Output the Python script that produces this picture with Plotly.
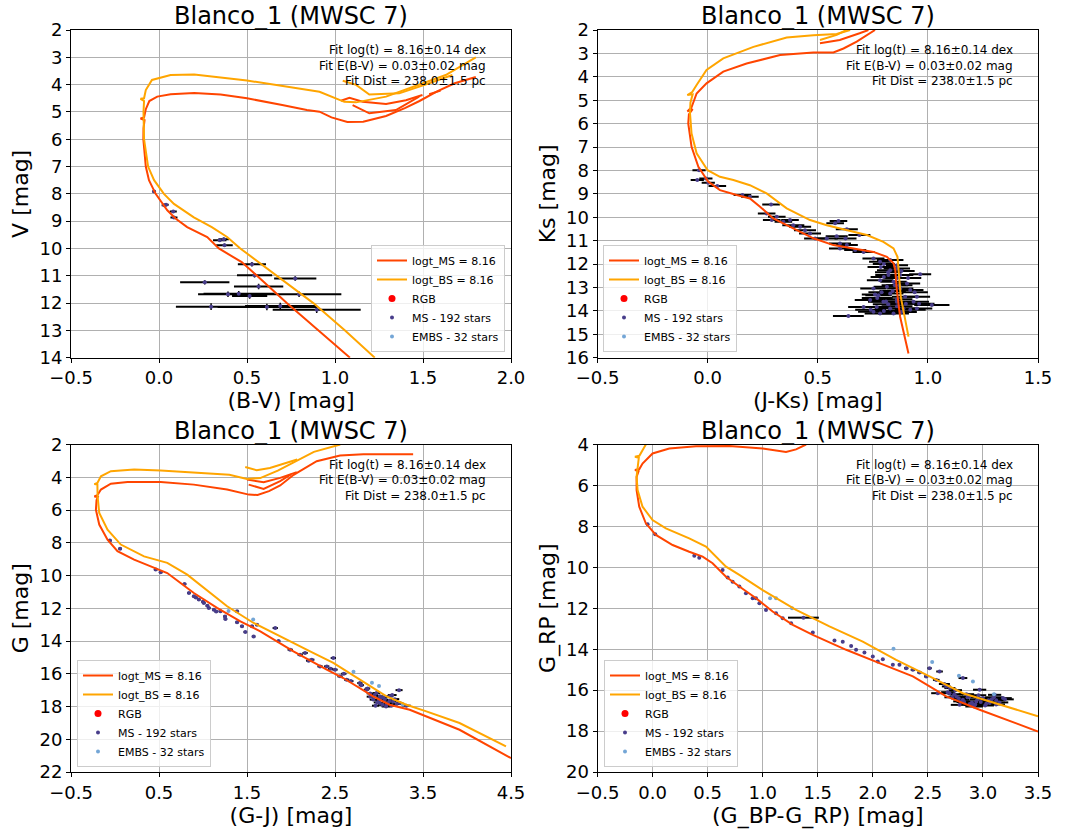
import plotly.graph_objects as go

TITLE = "Blanco_1 (MWSC 7)"
FIT_LINES = ["Fit log(t) = 8.16±0.14 dex", "Fit E(B-V) = 0.03±0.02 mag", "Fit Dist = 238.0±1.5 pc"]
LEGEND_NAMES = ["logt_MS = 8.16", "logt_BS = 8.16", "RGB", "MS - 192 stars", "EMBS - 32 stars"]

# ---------------- Panel 1: (B-V) vs V ----------------
bv_ms = [1.085, 0.906, 0.726, 0.557, 0.47, 0.34, 0.274, 0.16, 0.094, 0.047, -0.019, -0.057, -0.075, -0.089,
         -0.088, -0.082, -0.105, -0.085, -0.075, -0.055, -0.01, 0.066, 0.2, 0.35, 0.5, 0.7, 0.84, 0.912, 0.98,
         1.07, 1.16, 1.29, 1.40, 1.48, 1.58, 1.68, 1.80,
         None, 1.034, 1.082, 1.157, 1.29, 1.403, 1.497, None, 1.535, 1.60,
         None, 1.1, 1.195, 1.346, 1.478]
v_ms = [14.0, 13.0, 12.0, 11.0, 10.5, 10.0, 9.58, 9.22, 8.9, 8.6, 8.0, 7.5, 7.0, 6.0,
        5.6, 5.3, 5.24, 5.2, 4.9, 4.6, 4.44, 4.35, 4.31, 4.36, 4.5, 4.75, 4.93, 4.99, 5.2,
        5.37, 5.36, 5.15, 4.85, 4.6, 4.25, 3.95, 3.72,
        None, 4.59, 4.48, 4.63, 4.71, 4.57, 4.38, None, 4.35, 4.22,
        None, 4.75, 5.05, 4.93, 4.44]
bv_bs = [1.226, 1.057, 0.877, 0.67, 0.58, 0.462, 0.387, 0.30, 0.198, 0.085, 0.028, -0.028, -0.062, -0.085,
         -0.088, -0.085, -0.105, -0.085, -0.075, -0.04, 0.066, 0.2, 0.5, 0.84, 0.912, 1.053, 1.12, 1.29,
         1.478, 1.629, 1.80,
         None, 1.044, 1.12, 1.195, 1.365, 1.535, 1.667]
v_bs = [14.0, 13.0, 12.0, 11.0, 10.55, 10.0, 9.58, 9.22, 8.86, 8.37, 8.0, 7.5, 7.0, 6.0,
        5.0, 4.6, 4.52, 4.5, 4.2, 3.83, 3.65, 3.63, 3.85, 4.2, 4.26, 4.63, 4.65, 4.44,
        4.01, 3.65, 3.0,
        None, 3.86, 4.01, 4.36, 4.32, 3.95, 3.65]
bv_star = [-0.028, 0.03, 0.04, 0.081, 0.085, 0.345, 0.368, 0.372, 0.528, 0.543, 0.774, 0.26, 0.566,
           0.392, 0.453, 0.515, 0.796, 0.296, 0.613, 0.689, 0.896]
v_star = [7.91, 8.42, 8.40, 8.65, 8.87, 9.70, 9.66, 9.88, 10.58, 10.98, 11.10, 11.24, 11.39,
          11.68, 11.66, 11.74, 11.68, 12.13, 12.14, 12.11, 12.24]
bv_star_err = [0.01, 0.015, 0.015, 0.02, 0.02, 0.038, 0.03, 0.047, 0.08, 0.1, 0.12, 0.14, 0.14,
               0.17, 0.2, 0.1, 0.24, 0.2, 0.28, 0.2, 0.25]
v_star_err = [0.03, 0.03, 0.03, 0.04, 0.04, 0.06, 0.06, 0.06, 0.08, 0.08, 0.08, 0.08, 0.1,
              0.1, 0.1, 0.1, 0.1, 0.12, 0.12, 0.12, 0.12]

# ---------------- Panel 2: (J-Ks) vs Ks ----------------
jk_ms = [0.912, 0.897, 0.874, 0.859, 0.852, 0.844, 0.814, 0.753, 0.662, 0.571, 0.48, 0.389, 0.298, 0.238,
         0.192, 0.132, 0.056, 0.003, -0.042, -0.073, -0.088, -0.085, -0.068, -0.092, -0.073, -0.05, -0.005,
         0.071, 0.177, 0.329, 0.48, 0.571, 0.617, 0.677, 0.76,
         None, 0.51, 0.60, 0.69, 0.73]
ks_ms = [15.82, 15.25, 14.25, 13.11, 12.26, 11.97, 11.69, 11.48, 11.33, 11.19, 10.9, 10.48, 10.05, 9.55,
         9.2, 9.05, 8.84, 8.48, 7.84, 6.99, 5.99, 5.6, 5.38, 5.48, 5.3, 4.71, 4.28,
         3.78, 3.43, 3.07, 2.96, 2.96, 2.79, 2.5, 2.0,
         None, 2.57, 2.43, 2.14, 2.0]
jk_bs = [0.912, 0.897, 0.877, 0.867, 0.862, 0.844, 0.798, 0.723, 0.632, 0.541, 0.465, 0.359, 0.268, 0.192,
         0.117, 0.056, 0.0, -0.05, -0.073, -0.08, -0.078, -0.068, -0.092, -0.07, -0.05, -0.005, 0.071,
         0.208, 0.359, 0.48, 0.586, 0.647,
         None, 0.51, 0.586, 0.63]
ks_bs = [15.1, 14.4, 13.4, 12.26, 11.69, 11.33, 11.05, 10.76, 10.55, 10.34, 10.12, 9.62, 8.98, 8.63,
         8.41, 8.27, 7.99, 7.27, 6.42, 5.56, 5.1, 4.75, 4.78, 4.65, 4.35, 3.71, 3.21,
         2.72, 2.32, 2.22, 2.17, 2.0,
         None, 2.43, 2.21, 2.0]
jk_star = [-0.039, -0.047, -0.008, 0.003, 0.044, 0.158, 0.192, 0.288, 0.268, 0.314, 0.291, 0.344, 0.374,
           0.389, 0.42, 0.442, 0.465, 0.488, 0.541, 0.579, 0.594, 0.586, 0.632, 0.626, 0.601, 0.601, 0.632,
           0.67, 0.689, 0.708, 0.753, 0.783, 0.829, 0.786, 0.829, 0.859, 0.821, 0.874, 0.965, 0.783, 0.844,
           0.905, 0.753, 0.814, 0.874, 0.92, 0.776, 0.829, 0.897, 0.95, 0.738, 0.798, 0.859, 0.935, 1.018,
           0.708, 0.768, 0.829, 0.889, 0.95, 0.783, 0.844, 0.639, 0.753,
           0.80, 0.86, 0.82, 0.88, 0.86, 0.80, 0.87, 0.84, 0.79, 0.86, 0.77, 0.90, 0.82, 0.86, 0.74, 0.80,
           0.88, 0.92, 0.96, 0.94, 0.91, 0.85, 0.81, 0.76]
ks_star = [7.99, 8.41, 8.34, 8.53, 8.66, 9.05, 9.12, 9.45, 9.84, 9.98, 10.12, 10.19, 10.12,
           10.34, 10.41, 10.55, 10.69, 10.91, 10.91, 10.26, 10.16, 10.81, 10.51, 10.91, 11.12, 11.33, 11.19,
           11.4, 10.76, 11.48, 11.76, 11.9, 11.83, 12.12, 12.26, 12.19, 12.47, 12.47, 12.44, 12.69, 12.76,
           12.83, 13.04, 12.97, 13.04, 13.11, 13.33, 13.26, 13.4, 13.4, 13.54, 13.61, 13.61, 13.61, 13.75,
           13.83, 13.83, 13.9, 13.9, 13.9, 14.11, 14.11, 14.22, 14.04,
           12.0, 12.05, 12.35, 12.3, 12.6, 12.55, 12.9, 13.15, 13.2, 13.5, 13.45, 13.7, 13.72, 13.8, 13.95, 14.0,
           14.05, 13.95, 13.7, 13.2, 12.6, 12.9, 13.6, 13.3]
jk_star_err = [0.03, 0.03, 0.03, 0.03, 0.04, 0.04, 0.04, 0.04, 0.04, 0.04, 0.04, 0.04, 0.04,
               0.05, 0.05, 0.05, 0.05, 0.05, 0.05, 0.04, 0.04, 0.05, 0.05, 0.05, 0.05, 0.05, 0.05,
               0.05, 0.05, 0.05, 0.05, 0.05, 0.06, 0.06, 0.06, 0.06, 0.06, 0.06, 0.05, 0.06, 0.06,
               0.06, 0.06, 0.06, 0.06, 0.06, 0.06, 0.06, 0.06, 0.06, 0.07, 0.07, 0.07, 0.07, 0.08,
               0.07, 0.07, 0.07, 0.07, 0.07, 0.07, 0.07, 0.07, 0.07,
               0.05, 0.05, 0.06, 0.06, 0.06, 0.06, 0.06, 0.06, 0.06, 0.07, 0.07, 0.07, 0.07, 0.07, 0.07, 0.07,
               0.07, 0.07, 0.07, 0.06, 0.06, 0.06, 0.07, 0.06]

# ---------------- Panel 3: (G-J) vs G ----------------
gj_ms = [4.5, 3.915, 3.349, 3.12, 2.934, 2.783, 2.594, 2.406, 2.028, 1.651, 1.425, 1.16, 0.896, 0.745,
         0.594, 0.406, 0.217, 0.028, -0.085, -0.179, -0.217, -0.21, -0.195, -0.235, -0.2, -0.16, -0.047,
         0.142, 0.519, 0.896, 1.274, 1.52, 1.62, 1.75, 1.877, 2.03, 2.292, 2.558, 2.822, 3.388,
         None, 1.5, 1.689, 1.877, 2.066,
         None, 1.519, 1.689, 1.877, 2.0]
g_ms = [21.15, 19.42, 18.2, 17.89, 17.38, 16.87, 16.26, 15.75, 14.63, 13.41, 12.8, 11.98, 11.07, 10.46,
        9.85, 9.44, 9.03, 8.52, 7.81, 6.89, 5.98, 5.4, 5.2, 5.17, 5.1, 4.75, 4.39,
        4.29, 4.29, 4.45, 4.75, 5.06, 5.08, 4.85, 4.5, 3.85, 3.02, 2.67, 2.59, 2.59,
        None, 4.14, 4.3, 4.04, 3.69,
        None, 4.45, 4.71, 4.24, 3.83]
gj_bs = [4.443, 3.915, 3.538, 3.311, 3.085, 2.783, 2.481, 2.217, 2.028, 1.802, 1.575, 1.274, 0.972, 0.821,
         0.594, 0.33, 0.066, -0.085, -0.179, -0.198, -0.2, -0.235, -0.2, -0.16, -0.047, 0.217, 0.519,
         0.972, 1.3, 1.5, 1.65, 1.85, 2.07, 2.26, 2.56,
         None, 1.48, 1.61, 1.76, 2.07]
g_bs = [20.44, 19.01, 18.3, 17.89, 17.38, 16.36, 15.34, 14.63, 14.12, 13.51, 12.9, 11.88, 10.56, 9.95,
        9.23, 8.83, 8.11, 7.2, 6.18, 5.16, 4.45, 4.42, 4.35, 3.94, 3.63, 3.53, 3.59,
        3.74, 3.85, 4.1, 4.05, 3.6, 3.0, 2.45, 2.0,
        None, 3.37, 3.57, 3.43, 2.92]
gj_star = [-0.058, 0.058, 0.462, 0.519, 0.79, 0.84, 0.896, 0.953, 1.009, 1.066, 1.123, 1.198, 1.255,
           1.387, 1.387, 1.443, 1.481, 1.557, 1.575, 1.613, 1.821, 1.858, 1.991, 2.104, 2.16, 2.236, 2.33,
           2.406, 2.481, 2.5, 2.557, 2.632, 2.783, 2.858, 2.972, 3.009, 3.066, 3.123, 3.16, 3.085, 3.236,
           3.228, 2.934, 3.009, 3.311,
           2.95, 3.05, 3.1, 3.0, 2.9, 3.18, 3.04, 2.98, 3.14, 2.87, 2.80, 2.68, 2.6, 2.45, 2.2,
           0.92, 1.0, 1.05, 1.15, 1.25,
           3.02, 3.12, 2.96, 3.2, 3.08, 2.9, 3.15]
g_star = [7.87, 8.36, 9.64, 9.80, 10.52, 11.07, 11.27, 11.47, 11.68, 11.98, 12.09, 12.19, 12.66,
          12.19, 12.86, 13.10, 13.45, 13.10, 13.72, 13.00, 13.21, 14.00, 14.53, 14.84, 14.73, 15.14, 15.55,
          15.55, 15.04, 15.75, 16.16, 16.36, 16.57, 16.97, 17.18, 17.38, 17.58, 17.38, 17.69, 17.89, 17.79,
          17.0, 17.58, 17.79, 17.95,
          17.3, 17.45, 17.8, 17.6, 17.2, 17.55, 17.9, 17.75, 17.95, 16.9, 16.7, 16.45, 16.0, 15.7, 15.2,
          11.35, 11.6, 11.85, 12.2, 12.5,
          17.5, 17.65, 17.95, 17.85, 18.0, 17.4, 17.3]
gj_star_err = [0.02, 0.02, 0.02, 0.02, 0.02, 0.02, 0.02, 0.02, 0.02, 0.02, 0.02, 0.02, 0.02,
               0.02, 0.02, 0.02, 0.02, 0.02, 0.02, 0.02, 0.03, 0.02, 0.03, 0.03, 0.03, 0.03, 0.03,
               0.03, 0.03, 0.03, 0.03, 0.03, 0.03, 0.03, 0.04, 0.04, 0.04, 0.04, 0.04, 0.04, 0.04,
               0.04, 0.04, 0.04, 0.05,
               0.04, 0.04, 0.05, 0.04, 0.04, 0.05, 0.05, 0.04, 0.05, 0.03, 0.03, 0.03, 0.03, 0.03, 0.03,
               0.02, 0.02, 0.02, 0.02, 0.02,
               0.04, 0.05, 0.04, 0.05, 0.05, 0.04, 0.05]
gj_embs = [1.29, 1.57, 2.71, 2.92, 3.0, 3.27]
g_embs = [12.17, 12.68, 15.88, 16.55, 16.75, 17.9]

# ---------------- Panel 4: (G_BP-G_RP) vs G_RP ----------------
bprp_ms = [3.5, 2.97, 2.667, 2.515, 2.364, 2.06, 1.758, 1.455, 1.273, 1.09, 0.94, 0.788, 0.667, 0.545,
           0.455, 0.333, 0.182, 0.03, -0.061, -0.121, -0.145, -0.145, -0.127, -0.16, -0.12, -0.091, 0.0,
           0.152, 0.394, 0.697, 1.0, 1.212, 1.303, 1.394]
grp_ms = [18.02, 16.96, 16.31, 15.82, 15.33, 14.68, 14.03, 13.3, 12.81, 12.16, 11.51, 10.94, 10.46, 9.8,
          9.48, 9.24, 8.91, 8.42, 7.85, 7.04, 6.23, 5.58, 5.3, 5.25, 5.2, 4.93, 4.44,
          4.2, 4.08, 4.07, 4.2, 4.36, 4.24, 4.0]
bprp_bs = [3.5, 3.12, 2.818, 2.515, 2.212, 1.909, 1.606, 1.303, 1.0, 0.788, 0.667, 0.485, 0.333, 0.121,
           0.0, -0.091, -0.136, -0.145, -0.136, -0.125, -0.16, -0.12, -0.091, -0.061]
grp_bs = [17.28, 16.63, 16.15, 15.33, 14.52, 13.63, 12.89, 12.08, 11.11, 10.37, 9.97, 8.99, 8.59, 8.1,
          7.69, 7.04, 6.23, 5.58, 5.09, 4.65, 4.6, 4.55, 4.28, 4.0]
bprp_star = [-0.045, 0.024, 0.379, 0.424, 0.636, 0.682, 0.727, 0.788, 0.848, 0.909, 0.939, 0.97, 1.03,
             1.121, 1.182, 1.258, 1.37, 1.455, 1.652, 1.727, 1.803, 1.848, 1.924, 2.0, 2.045, 2.091,
             2.182, 2.242, 2.303, 2.364, 2.424, 2.485, 2.515, 2.576, 2.606, 2.667, 2.818, 2.697, 2.758,
             2.818, 2.879, 2.939, 3.0, 3.061, 3.121, 3.182, 3.106, 2.97, 2.59, 2.788, 2.909, 3.03,
             2.75, 2.85, 2.95, 3.05, 2.9, 2.8, 3.15, 2.7, 2.65, 2.72,
             2.78, 2.83, 2.88, 2.93, 2.98, 3.02, 3.08, 3.12, 2.74, 2.86, 2.96, 3.1, 3.2, 2.68, 2.92]
grp_star = [7.9, 8.39, 9.43, 9.53, 10.13, 10.5, 10.7, 10.94, 11.27, 11.51, 11.51, 11.76, 12.08,
            12.24, 12.49, 12.73, 12.46, 13.19, 13.58, 13.64, 13.84, 14.03, 14.16, 14.36, 14.6, 14.49,
            14.76, 14.76, 14.93, 15.01, 15.14, 15.33, 14.93, 15.5, 15.09, 15.82, 15.41, 16.15, 16.31,
            16.47, 16.31, 16.55, 16.39, 16.63, 16.5, 16.39, 16.23, 15.98, 16.15, 16.72, 16.72, 16.67,
            16.0, 16.2, 16.45, 16.5, 16.6, 16.55, 16.6, 15.9, 15.7, 16.35,
            16.4, 16.58, 16.68, 16.7, 16.58, 16.75, 16.45, 16.7, 16.2, 16.35, 16.25, 16.35, 16.45, 16.1, 16.8]
bprp_star_err = [0.01, 0.01, 0.01, 0.01, 0.01, 0.01, 0.01, 0.01, 0.01, 0.01, 0.01, 0.01, 0.01,
                 0.01, 0.01, 0.01, 0.14, 0.01, 0.01, 0.01, 0.01, 0.01, 0.01, 0.01, 0.01, 0.01,
                 0.01, 0.01, 0.02, 0.02, 0.02, 0.02, 0.02, 0.03, 0.03, 0.04, 0.04, 0.05, 0.06,
                 0.06, 0.07, 0.07, 0.07, 0.08, 0.08, 0.08, 0.06, 0.06, 0.06, 0.08, 0.08, 0.08,
                 0.06, 0.07, 0.07, 0.08, 0.07, 0.07, 0.08, 0.05, 0.05, 0.07,
                 0.07, 0.07, 0.08, 0.08, 0.07, 0.08, 0.07, 0.08, 0.06, 0.07, 0.07, 0.08, 0.08, 0.06, 0.08]
bprp_embs = [1.067, 1.121, 1.267, 2.188, 2.539, 2.782, 2.909, 3.1]
grp_embs = [11.51, 11.51, 12.0, 13.98, 14.63, 15.3, 15.58, 16.2]

# ---------------- Layout constants ----------------
C_MS_LINE = "#FF4500"
C_BS_LINE = "#FFA500"
C_RGB = "#FF0000"
C_MS_STAR = "#483D8B"
C_EMBS = "#74A6D6"
FONT = "DejaVu Sans"

W, H = 1065, 833
ML, MR, MT, MB = 71, 27, 30, 61
PW, PH = W - ML - MR, H - MT - MB


def px_x(px):
    return (px - ML) / PW


def px_y(py):
    return (H - MB - py) / PH


panels = [
    dict(ms=(bv_ms, v_ms), bs=(bv_bs, v_bs), star=(bv_star, v_star, bv_star_err, v_star_err),
         embs=([None], [None]), xr=[-0.5, 2.0], xt0=-0.5, xd=0.5, yr=[14, 2], yd=1,
         xt="(B-V) [mag]", yt="V [mag]",
         xdom=[px_x(71), px_x(511)], ydom=[px_y(357.7), px_y(30)],
         leg=dict(x=px_x(505), y=px_y(352), xanchor="right")),
    dict(ms=(jk_ms, ks_ms), bs=(jk_bs, ks_bs), star=(jk_star, ks_star, jk_star_err, None),
         embs=([None], [None]), xr=[-0.5, 1.5], xt0=-0.5, xd=0.5, yr=[16, 2], yd=1,
         xt="(J-Ks) [mag]", yt="Ks [mag]",
         xdom=[px_x(597.5), px_x(1038)], ydom=[px_y(357.7), px_y(30)],
         leg=dict(x=px_x(603), y=px_y(352), xanchor="left")),
    dict(ms=(gj_ms, g_ms), bs=(gj_bs, g_bs), star=(gj_star, g_star, gj_star_err, None),
         embs=(gj_embs, g_embs), xr=[-0.5, 4.5], xt0=-0.5, xd=1.0, yr=[22, 2], yd=2,
         xt="(G-J) [mag]", yt="G [mag]",
         xdom=[px_x(71), px_x(511)], ydom=[px_y(772), px_y(444.5)],
         leg=dict(x=px_x(77), y=px_y(767), xanchor="left")),
    dict(ms=(bprp_ms, grp_ms), bs=(bprp_bs, grp_bs), star=(bprp_star, grp_star, bprp_star_err, None),
         embs=(bprp_embs, grp_embs), xr=[-0.5, 3.5], xt0=-0.5, xd=0.5, yr=[20, 4], yd=2,
         xt="(G_BP-G_RP) [mag]", yt="G_RP [mag]",
         xdom=[px_x(597.5), px_x(1038)], ydom=[px_y(772), px_y(444.5)],
         leg=dict(x=px_x(604), y=px_y(767), xanchor="left")),
]

fig = go.Figure()
layout = dict(
    width=W, height=H, margin=dict(l=ML, r=MR, t=MT, b=MB),
    paper_bgcolor="white", plot_bgcolor="white",
    font=dict(family=FONT, color="black"),
    showlegend=True, annotations=[],
)

for i, p in enumerate(panels, start=1):
    xa = "x" if i == 1 else f"x{i}"
    ya = "y" if i == 1 else f"y{i}"
    lg = "legend" if i == 1 else f"legend{i}"
    sx, sy, sxe, sye = p["star"]
    err_y = dict(type="data", array=sye, color="black", thickness=1.5, width=0) if sye else None
    fig.add_trace(go.Scatter(x=sx, y=sy, mode="markers", name=LEGEND_NAMES[3], legend=lg, legendrank=4,
                             xaxis=xa, yaxis=ya,
                             marker=dict(color=C_MS_STAR, size=4),
                             error_x=dict(type="data", array=sxe, color="black", thickness=2, width=0),
                             error_y=err_y))
    fig.add_trace(go.Scatter(x=p["embs"][0], y=p["embs"][1], mode="markers", name=LEGEND_NAMES[4],
                             legend=lg, legendrank=5, xaxis=xa, yaxis=ya,
                             marker=dict(color=C_EMBS, size=4)))
    fig.add_trace(go.Scatter(x=[None], y=[None], mode="markers", name=LEGEND_NAMES[2], legend=lg,
                             legendrank=3, xaxis=xa, yaxis=ya, marker=dict(color=C_RGB, size=7)))
    fig.add_trace(go.Scatter(x=p["ms"][0], y=p["ms"][1], mode="lines", name=LEGEND_NAMES[0], legend=lg,
                             legendrank=1, xaxis=xa, yaxis=ya, line=dict(color=C_MS_LINE, width=2)))
    fig.add_trace(go.Scatter(x=p["bs"][0], y=p["bs"][1], mode="lines", name=LEGEND_NAMES[1], legend=lg,
                             legendrank=2, xaxis=xa, yaxis=ya, line=dict(color=C_BS_LINE, width=2)))

    axis_common = dict(showgrid=True, gridcolor="#b0b0b0", gridwidth=1, zeroline=False,
                       showline=True, linecolor="black", linewidth=1, mirror=True,
                       ticks="outside", ticklen=4, tickcolor="black",
                       tickfont=dict(size=18, family=FONT))
    layout["xaxis" if i == 1 else f"xaxis{i}"] = dict(
        axis_common, domain=p["xdom"], range=p["xr"], tick0=p["xt0"], dtick=p["xd"], anchor=ya,
        tickformat=".1f",
        title=dict(text=p["xt"], font=dict(size=22, family=FONT), standoff=2))
    layout["yaxis" if i == 1 else f"yaxis{i}"] = dict(
        axis_common, domain=p["ydom"], range=p["yr"], dtick=p["yd"], anchor=xa,
        title=dict(text=p["yt"], font=dict(size=22, family=FONT), standoff=4))
    layout[lg] = dict(p["leg"], yanchor="bottom", bgcolor="rgba(255,255,255,0.8)",
                      bordercolor="#cccccc", borderwidth=1, font=dict(size=11, family=FONT),
                      itemwidth=30, tracegroupgap=0)

    # subplot title
    xc = (p["xdom"][0] + p["xdom"][1]) / 2
    layout["annotations"].append(dict(text=TITLE, xref="paper", yref="paper", x=xc, y=p["ydom"][1],
                                      xanchor="center", yanchor="bottom", yshift=-2, showarrow=False,
                                      font=dict(size=24, family=FONT)))
    # fit text
    xr_px = 488 if i in (1, 3) else 1015
    for k, line in enumerate(FIT_LINES):
        layout["annotations"].append(dict(text=line, xref="paper", yref="paper", x=px_x(xr_px),
                                          y=p["ydom"][1], yshift=-(20 + 15.7 * k), xanchor="right",
                                          yanchor="middle", showarrow=False,
                                          font=dict(size=12, family=FONT)))

fig.update_layout(**layout)
fig.write_html("out.html")
